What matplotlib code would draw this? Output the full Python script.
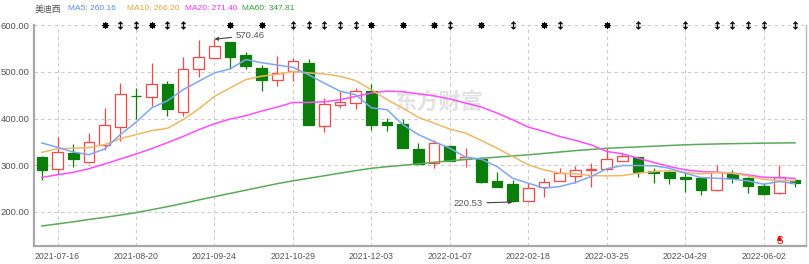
import matplotlib
matplotlib.use('Agg')
import matplotlib.pyplot as plt
import numpy as np

# ---------------- data ----------------
dates = ['2021-07-09', '2021-07-16', '2021-07-23', '2021-07-30', '2021-08-06', '2021-08-13',
         '2021-08-20', '2021-08-27', '2021-09-03', '2021-09-10', '2021-09-17', '2021-09-24',
         '2021-09-30', '2021-10-08', '2021-10-15', '2021-10-22', '2021-10-29', '2021-11-05',
         '2021-11-12', '2021-11-19', '2021-11-26', '2021-12-03', '2021-12-10', '2021-12-17',
         '2021-12-24', '2021-12-31', '2022-01-07', '2022-01-14', '2022-01-21', '2022-01-28',
         '2022-02-11', '2022-02-18', '2022-02-25', '2022-03-04', '2022-03-11', '2022-03-18',
         '2022-03-25', '2022-04-01', '2022-04-08', '2022-04-15', '2022-04-22', '2022-04-29',
         '2022-05-06', '2022-05-13', '2022-05-20', '2022-05-27', '2022-06-02', '2022-06-10',
         '2022-06-17']
tick_labels = ['2021-07-16', '2021-08-20', '2021-09-24', '2021-10-29', '2021-12-03',
               '2022-01-07', '2022-02-18', '2022-03-25', '2022-04-29', '2022-06-02']

opens = [317.3, 292.0, 325.9, 307.2, 343.2, 382.7, 449.0, 446.8, 473.4, 413.7,
         505.8, 530.2, 564.0, 537.4, 508.6, 483.5, 502.0, 518.7, 384.9, 429.5,
         433.8, 459.0, 392.0, 388.5, 335.3, 304.0, 340.0, 314.0, 312.7, 266.0,
         259.5, 222.0, 252.4, 266.6, 276.7, 289.7, 292.5, 309.7, 317.0, 288.2,
         284.7, 275.3, 271.8, 246.6, 283.9, 271.8, 255.9, 240.7, 268.0]
highs = [318.5, 359.7, 346.0, 369.0, 423.0, 475.5, 466.0, 518.7, 480.6, 533.0,
         568.3, 570.46, 564.5, 543.0, 514.4, 534.5, 531.0, 528.8, 444.6, 459.0,
         466.2, 473.4, 401.4, 398.0, 347.5, 352.8, 341.0, 337.7, 318.3, 286.0,
         268.0, 261.0, 272.4, 293.3, 299.0, 305.4, 336.4, 325.6, 318.0, 293.3,
         288.0, 286.0, 272.5, 300.4, 289.7, 275.3, 261.0, 299.8, 269.0]
lows = [268.4, 281.3, 295.7, 305.0, 333.0, 352.5, 400.0, 426.6, 405.0, 405.0,
        489.2, 529.0, 507.2, 507.0, 459.0, 470.5, 480.6, 385.0, 370.5, 421.6,
        419.4, 376.3, 374.0, 336.0, 300.0, 293.3, 308.0, 295.5, 262.0, 253.0,
        220.53, 221.0, 232.0, 265.0, 261.0, 253.7, 290.0, 308.0, 275.3, 261.0,
        259.0, 243.0, 235.8, 245.0, 261.0, 240.7, 236.0, 238.0, 253.7]
closes = [290.0, 327.3, 312.2, 350.4, 387.0, 453.2, 447.5, 473.4, 420.9, 505.8,
          533.0, 555.4, 532.4, 513.7, 483.5, 497.8, 523.7, 387.0, 430.2, 435.3,
          459.0, 387.0, 385.0, 336.7, 302.2, 346.4, 309.7, 318.3, 263.2, 253.7,
          222.0, 250.2, 263.8, 282.5, 289.7, 292.5, 312.7, 319.2, 284.7, 283.9,
          273.0, 271.0, 246.6, 284.7, 271.8, 255.2, 237.3, 273.9, 262.3]

ma5 = [347.5, 338.0, 328.0, 322.3, 334.5, 365.5, 392.0, 423.0, 438.0, 462.0,
       480.0, 498.0, 506.7, 526.7, 520.0, 515.0, 510.0, 494.0, 476.0, 459.0,
       451.0, 423.0, 419.0, 387.0, 365.5, 350.0, 336.4, 317.0, 312.6, 296.8,
       271.7, 261.0, 250.2, 253.7, 262.4, 275.3, 291.8, 299.0, 299.0, 298.3,
       293.2, 282.5, 273.1, 271.7, 269.5, 266.0, 258.7, 264.5, 260.16]
ma10 = [327.3, 335.3, 336.0, 337.4, 343.9, 356.8, 365.5, 374.0, 379.0, 397.4,
        420.5, 447.7, 465.7, 483.6, 491.0, 495.0, 501.0, 498.0, 495.8, 490.8,
        481.5, 462.1, 440.5, 422.6, 402.4, 390.2, 377.3, 368.7, 352.9, 336.4,
        318.4, 300.4, 289.7, 282.5, 281.0, 277.4, 276.7, 277.4, 282.5, 286.0,
        288.2, 283.9, 281.0, 283.9, 282.5, 276.7, 269.5, 266.6, 266.20]
ma20 = [273.4, 279.1, 284.2, 292.1, 302.2, 313.0, 323.7, 335.3, 348.0, 361.4,
        375.9, 388.8, 398.9, 406.0, 416.0, 424.5, 434.5, 434.5, 436.0, 440.3,
        447.5, 454.7, 459.0, 457.6, 453.2, 448.5, 442.0, 433.4, 424.8, 411.8,
        397.4, 381.6, 372.3, 361.5, 352.9, 343.5, 329.2, 324.1, 314.8, 305.5,
        296.8, 289.7, 286.0, 284.6, 282.5, 278.9, 273.9, 272.5, 271.40]
ma60 = [169.0, 173.5, 178.0, 183.0, 187.5, 192.5, 197.7, 204.0, 210.6, 217.5,
        225.0, 232.0, 239.0, 246.0, 253.0, 260.0, 266.0, 271.5, 277.0, 282.5,
        288.0, 293.0, 296.5, 299.5, 302.5, 306.0, 309.0, 312.0, 314.5, 317.0,
        319.5, 322.0, 325.0, 328.0, 331.0, 333.5, 336.0, 337.5, 339.0, 340.5,
        342.0, 343.5, 344.5, 345.3, 346.0, 346.5, 347.0, 347.4, 347.81]

star_dates = ['2021-08-06', '2021-08-27', '2021-09-30', '2021-10-15', '2021-12-03',
              '2021-12-17', '2021-12-31', '2022-01-21', '2022-02-25', '2022-03-25']
arrow_dates = ['2021-08-13', '2021-08-20', '2021-09-03', '2021-09-10', '2021-10-29',
               '2021-11-05', '2021-11-12', '2021-11-19', '2021-11-26', '2022-01-07',
               '2022-02-11', '2022-03-04', '2022-04-08', '2022-04-29', '2022-05-13',
               '2022-05-20', '2022-05-27', '2022-06-02', '2022-06-17']
signal_date = '2022-06-10'
stock_name = '美迪西'
yticks = [200, 300, 400, 500, 600]

# ---------------- style ----------------
UP = '#ff4545'
DOWN = '#0b7d0b'
C5, C10, C20, C60 = '#7ea6f4', '#efb866', '#ff4dff', '#5aaa5a'
TXT = '#555555'
FONT = ['Liberation Sans', 'Noto Sans CJK SC', 'DejaVu Sans']
plt.rcParams['font.family'] = FONT

W, H = 809, 264
fig = plt.figure(figsize=(W / 100, H / 100), dpi=100)
fig.patch.set_facecolor('white')
L, R, T, B = 34, 806, 25, 246
ax = fig.add_axes([L / W, 1 - B / H, (R - L) / W, (B - T) / H])

x = np.arange(len(dates))
for i in x:
    o, h, l, c = opens[i], highs[i], lows[i], closes[i]
    up = c >= o
    col = UP if up else DOWN
    ax.vlines(i, l, h, color=col, lw=0.9, zorder=3)
    hgt = max(abs(c - o), 1.3)
    ax.bar(i, hgt, bottom=min(o, c), width=0.68,
           facecolor='white' if up else DOWN, edgecolor=col, lw=0.9, zorder=4)

ax.plot(x, ma60, color=C60, lw=1.1, zorder=5)
ax.plot(x, ma20, color=C20, lw=1.1, zorder=5)
ax.plot(x, ma10, color=C10, lw=1.1, zorder=5)
ax.plot(x, ma5, color=C5, lw=1.1, zorder=5)

# watermark
ax.text(25.3, 436, '东方财富', fontsize=16, color='#e2e2e2', fontweight='bold',
        family=['Noto Sans CJK SC'], ha='center', va='center', zorder=1)

ax.set_xlim(-0.5, 48.7)
ax.set_ylim(126, 601)

tick_pos = [dates.index(d) for d in tick_labels]
ax.set_xticks(tick_pos)
ax.set_xticklabels(tick_labels, fontsize=6.3, color=TXT)
ax.set_yticks(yticks)
ax.set_yticklabels(['%.2f' % v for v in yticks], fontsize=6.8, color=TXT)
ax.tick_params(length=0, pad=3)
ax.tick_params(axis='x', pad=4)
ax.grid(True, color='#cccccc', lw=0.8, ls=(0, (3, 3)), zorder=0)
ax.set_axisbelow(True)

for s in ['left', 'bottom']:
    ax.spines[s].set_color('#a8a8a8')
    ax.spines[s].set_linewidth(1.6)
ax.spines['right'].set_color('#bbbbbb')
ax.spines['right'].set_linewidth(1.0)
ax.spines['top'].set_visible(False)

# top markers
sx = [dates.index(d) for d in star_dates]
ax.plot(sx, [600] * len(sx), ls='none', marker=(8, 2, 0), ms=4.8, mew=0.8,
        color='black', clip_on=False, zorder=6)
ax.plot(sx, [600] * len(sx), ls='none', marker='o', ms=2.4, color='black',
        clip_on=False, zorder=6)
axx = [dates.index(d) for d in arrow_dates]
ax.plot(axx, [600] * len(axx), ls='none', marker=r'$\updownarrow$', ms=5.5,
        color='black', mew=0.3, clip_on=False, zorder=6)

# signal
si = dates.index(signal_date)
ax.text(si, 136.5, 'S', color='red', fontsize=7, ha='center', va='center',
        zorder=6)
ax.plot([si], [144], ls='none', marker='^', ms=2.8, color='red', zorder=6)

# high / low annotations
hi = int(np.argmax(highs))
lo = int(np.argmin(lows))
ax.annotate('%.2f' % highs[hi], xy=(hi, highs[hi]), xytext=(hi + 1.35, 578.5),
            fontsize=6.8, color=TXT, ha='left', va='center', zorder=7,
            arrowprops=dict(arrowstyle='-|>', color='#444444', lw=0.8,
                            mutation_scale=5, shrinkA=1, shrinkB=0))
ax.annotate('%.2f' % lows[lo], xy=(lo, lows[lo]), xytext=(lo - 1.9, 218),
            fontsize=6.8, color=TXT, ha='right', va='center', zorder=7,
            arrowprops=dict(arrowstyle='-|>', color='#444444', lw=0.8,
                            mutation_scale=5, shrinkA=1, shrinkB=0))

# header legend
ty = 1 - 9 / H
HF = 6.0
fig.text(35 / W, ty, stock_name, fontsize=6.4, color=TXT, va='center')
fig.text(68 / W, ty, 'MA5: %.2f' % ma5[-1], fontsize=HF, color='#5b8cf5', va='center')
fig.text(127 / W, ty, 'MA10: %.2f' % ma10[-1], fontsize=HF, color='#e8a53a', va='center')
fig.text(185 / W, ty, 'MA20: %.2f' % ma20[-1], fontsize=HF, color='#ff33ff', va='center')
fig.text(242 / W, ty, 'MA60: %.2f' % ma60[-1], fontsize=HF, color='#33a033', va='center')

fig.savefig('out.png', dpi=100, facecolor='white')
